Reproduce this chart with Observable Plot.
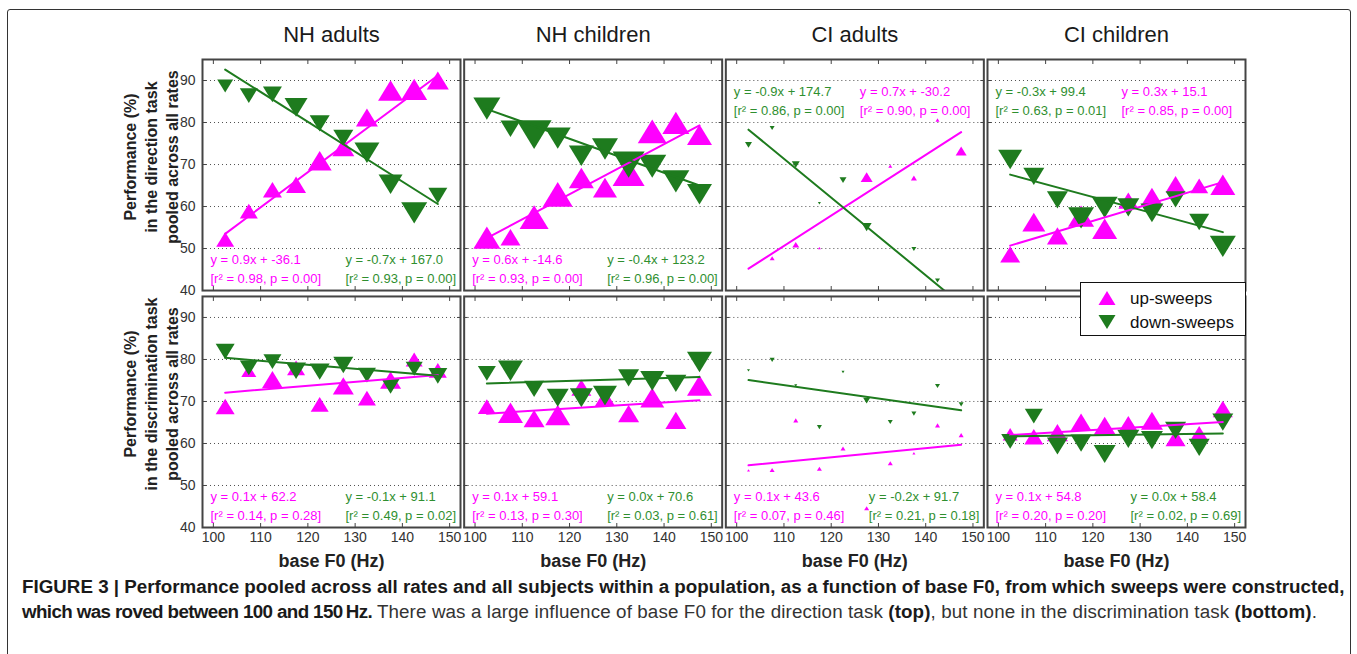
<!DOCTYPE html>
<html>
<head>
<meta charset="utf-8">
<script src="https://cdn.jsdelivr.net/npm/d3@7"></script>
<script src="https://cdn.jsdelivr.net/npm/@observablehq/plot@0.6"></script>
<style>
  body { margin: 0; background: #fff; font-family: "Liberation Sans", Arial, sans-serif; }
  #wrap { position: relative; width: 1357px; height: 654px; overflow: hidden; background: #fff; }
  #border { position: absolute; left: 7px; top: 9px; width: 1342px; height: 700px; border: 1px solid #333; border-radius: 3px; }
  #chart { position: absolute; left: 0; top: 0; }
  #legend { position: absolute; left: 1080px; top: 282px; width: 164px; height: 52px; border: 1.5px solid #111; background: #fff; }
  #caption { position: absolute; left: 22px; top: 574px; white-space: nowrap; font-size: 16.6px; line-height: 25px; color: #333; }
  #caption b { color: #1a1a1a; }
</style>
</head>
<body>
<div id="wrap">
  <div id="border"></div>
  <div id="chart"></div>
  <div id="legend"></div>
  <div id="caption"><span id="cap1"><b>FIGURE 3 | Performance pooled across all rates and all subjects within a population, as a function of base F0, from which sweeps were constructed,</b></span><br><span id="cap2b"><b>which was roved between 100 and 150&thinsp;Hz.</b></span> <span id="cap2r">There was a large influence of base F0 for the direction task <b>(top)</b>, but none in the discrimination task <b>(bottom)</b>.</span></div>
</div>
<script>
// ---------- data ----------
const columns = ["NH adults", "NH children", "CI adults", "CI children"];
const tasks = ["direction", "discrimination"];
const baseF0 = [102.5, 107.5, 112.5, 117.5, 122.5, 127.5, 132.5, 137.5, 142.5, 147.5];
const xTicks = [100, 110, 120, 130, 140, 150];
const yTicks = [40, 50, 60, 70, 80, 90];

// direction task (top row)
const upDirNHA   = [52.2, 58.9, 64.0, 65.2, 70.9, 74.1, 81.2, 87.6, 87.9, 90.0];
const downDirNHA = [88.7, 86.4, 86.7, 83.6, 79.8, 76.3, 72.8, 65.3, 58.5, 62.6];
const upDirNHC   = [52.6, 52.7, 57.5, 62.9, 66.8, 64.5, 68.0, 77.9, 79.9, 77.1];
const downDirNHC = [83.3, 78.5, 77.1, 76.3, 72.1, 73.7, 70.0, 69.6, 66.0, 62.9];
const upDirCIA   = [null, 47.7, 50.9, 50.1, null, 67.0, 69.6, 66.8, 80.6, 73.2];
const downDirCIA = [74.7, 78.7, 70.0, 60.8, 66.3, 55.1, null, 49.9, 42.4, null];
const upDirCIC   = [48.6, 56.3, 53.0, 57.7, 54.7, 61.4, 62.3, 65.3, 64.9, 65.2];
const downDirCIC = [71.2, 67.2, 61.6, 57.3, 59.8, 59.8, 58.5, 61.7, 56.3, 50.5];
// discrimination task (bottom row)
const upDisNHA   = [68.8, 77.3, 75.2, 78.0, 69.3, 73.7, 70.8, 75.1, 80.0, 77.4];
const downDisNHA = [81.9, 78.0, 79.5, 77.3, 77.1, 78.7, 76.3, 73.6, 77.8, 76.1];
const upDisNHC   = [68.8, 67.3, 65.9, 66.8, 73.3, 70.9, 67.1, 70.9, 65.5, 73.8];
const downDisNHC = [76.7, 77.3, 73.0, 70.9, 70.9, 71.4, 75.6, 74.9, 74.3, 79.4];
const upDisCIA   = [53.6, 53.7, 65.5, 54.0, 58.8, 44.6, 55.3, 57.7, 64.3, 62.0];
const downDisCIA = [77.4, 79.9, 73.8, 63.9, 77.0, 70.2, 65.1, 67.1, 73.7, 69.3];
const upDisCIC   = [62.2, 61.6, 62.6, 65.1, 64.2, 64.6, 65.4, 61.3, 62.3, 68.2];
const downDisCIC = [60.5, 66.5, 59.4, 60.1, 57.5, 61.1, 60.8, 63.1, 59.1, 65.1];

// relative marker weights (symbol size encodes them)
const wUpDirNHA   = [18, 18, 19, 20, 24, 22, 22, 25, 26, 22];
const wDownDirNHA = [16, 18, 19, 23, 20, 20, 25, 24, 26, 19];
const wUpDirNHC   = [27, 20, 29, 30, 25, 24, 32, 29, 27, 25];
const wDownDirNHC = [27, 20, 35, 26, 25, 26, 32, 28, 27, 25];
const wUpDirCIA   = [0, 5, 7, 3, 0, 12, 4, 6, 4, 11];
const wDownDirCIA = [7, 5, 8, 3, 7, 10, 0, 5, 5, 0];
const wUpDirCIC   = [20, 23, 21, 26, 25, 20, 22, 20, 18, 25];
const wDownDirCIC = [24, 21, 21, 26, 26, 22, 23, 20, 20, 26];
const wUpDisNHA   = [19, 15, 21, 18, 18, 21, 18, 21, 17, 18];
const wDownDisNHA = [19, 18, 18, 20, 20, 20, 18, 18, 17, 19];
const wUpDisNHC   = [18, 25, 21, 25, 20, 20, 21, 24, 21, 25];
const wDownDisNHC = [18, 25, 20, 22, 23, 24, 21, 24, 21, 25];
const wUpDisCIA   = [3, 5, 5, 5, 5, 5, 5, 3, 5, 5];
const wDownDisCIA = [3, 5, 3, 5, 3, 7, 5, 5, 5, 5];
const wUpDisCIC   = [15, 19, 21, 21, 22, 20, 22, 20, 19, 20];
const wDownDisCIC = [18, 18, 21, 21, 22, 22, 22, 21, 21, 21];

// fitted lines: value at first and last base F0, panel order (direction x4, discrimination x4)
const upFitStart   = [53.5, 52.5, 45.2, 50.7, 72.1, 67.1, 54.8, 62.0];
const upFitEnd     = [91.2, 79.3, 77.7, 65.8, 76.3, 70.3, 59.7, 65.1];
const downFitStart = [92.6, 83.2, 78.3, 67.6, 80.4, 74.3, 75.1, 61.7];
const downFitEnd   = [60.6, 65.0, 36.7, 53.9, 76.1, 75.8, 67.9, 62.4];

// fit annotations
const upEq = ["y = 0.9x + -36.1", "y = 0.6x + -14.6", "y = 0.7x + -30.2", "y = 0.3x + 15.1",
              "y = 0.1x + 62.2", "y = 0.1x + 59.1", "y = 0.1x + 43.6", "y = 0.1x + 54.8"];
const upStat = ["[r² = 0.98, p = 0.00]", "[r² = 0.93, p = 0.00]", "[r² = 0.90, p = 0.00]", "[r² = 0.85, p = 0.00]",
                "[r² = 0.14, p = 0.28]", "[r² = 0.13, p = 0.30]", "[r² = 0.07, p = 0.46]", "[r² = 0.20, p = 0.20]"];
const downEq = ["y = -0.7x + 167.0", "y = -0.4x + 123.2", "y = -0.9x + 174.7", "y = -0.3x + 99.4",
                "y = -0.1x + 91.1", "y = 0.0x + 70.6", "y = -0.2x + 91.7", "y = 0.0x + 58.4"];
const downStat = ["[r² = 0.93, p = 0.00]", "[r² = 0.96, p = 0.00]", "[r² = 0.86, p = 0.00]", "[r² = 0.63, p = 0.01]",
                  "[r² = 0.49, p = 0.02]", "[r² = 0.03, p = 0.61]", "[r² = 0.21, p = 0.18]", "[r² = 0.02, p = 0.69]"];

const yTitles = ["Performance (%)\nin the direction task\npooled across all rates",
                 "Performance (%)\nin the discrimination task\npooled across all rates"];
const xTitle = "base F0 (Hz)";
const legendLabels = ["up-sweeps", "down-sweeps"];

// ---------- build tables ----------
const MAGENTA = "#ff00ff", GREEN = "#1e7b1e", GREEN_TEXT = "#2f8f2f";
const upValues = [upDirNHA, upDirNHC, upDirCIA, upDirCIC, upDisNHA, upDisNHC, upDisCIA, upDisCIC];
const downValues = [downDirNHA, downDirNHC, downDirCIA, downDirCIC, downDisNHA, downDisNHC, downDisCIA, downDisCIC];
const upWeights = [wUpDirNHA, wUpDirNHC, wUpDirCIA, wUpDirCIC, wUpDisNHA, wUpDisNHC, wUpDisCIA, wUpDisCIC];
const downWeights = [wDownDirNHA, wDownDirNHC, wDownDirCIA, wDownDirCIC, wDownDisNHA, wDownDisNHC, wDownDisCIA, wDownDisCIC];
const panels = tasks.flatMap(t => columns.map(c => ({task: t, col: c})));

const upPts = [], downPts = [], upFit = [], downFit = [];
panels.forEach((p, i) => {
  baseF0.forEach((f, j) => {
    if (upValues[i][j] != null) upPts.push({fx: p.col, fy: p.task, f0: f, perf: upValues[i][j], w: upWeights[i][j]});
    if (downValues[i][j] != null) downPts.push({fx: p.col, fy: p.task, f0: f, perf: downValues[i][j], w: downWeights[i][j]});
  });
  const f0a = baseF0[0], f0b = baseF0[baseF0.length - 1];
  upFit.push({fx: p.col, fy: p.task, f0: f0a, perf: upFitStart[i], k: i}, {fx: p.col, fy: p.task, f0: f0b, perf: upFitEnd[i], k: i});
  downFit.push({fx: p.col, fy: p.task, f0: f0a, perf: downFitStart[i], k: i}, {fx: p.col, fy: p.task, f0: f0b, perf: downFitEnd[i], k: i});
});

// triangle symbols centred on their bounding box
const triUp = {draw(ctx, size) { const a = Math.sqrt(size / Math.PI), h = a * 0.82;
  ctx.moveTo(0, -h); ctx.lineTo(a, h); ctx.lineTo(-a, h); ctx.closePath(); }};
const triDown = {draw(ctx, size) { const a = Math.sqrt(size / Math.PI), h = a * 0.82;
  ctx.moveTo(0, h); ctx.lineTo(a, -h); ctx.lineTo(-a, -h); ctx.closePath(); }};

// annotation marks
const annMarks = [];
panels.forEach((p, i) => {
  const atTop = p.task === "direction" && p.col.startsWith("CI");
  const up = {fx: p.col, fy: p.task, t: upEq[i] + "\n" + upStat[i]};
  const dn = {fx: p.col, fy: p.task, t: downEq[i] + "\n" + downStat[i]};
  const left = atTop ? dn : up, right = atTop ? up : dn;
  const leftFill = atTop ? GREEN_TEXT : MAGENTA, rightFill = atTop ? MAGENTA : GREEN_TEXT;
  const base = {fx: "fx", fy: "fy", text: "t", textAnchor: "start", fontSize: 13, lineHeight: 1.45,
                frameAnchor: atTop ? "top-left" : "bottom-left", dy: atTop ? 23 : -8};
  annMarks.push(Plot.text([left], {...base, fill: leftFill, dx: 8}));
  annMarks.push(Plot.text([right], {...base, fill: rightFill, dx: atTop ? 134 : 143}));
});

const chart = Plot.plot({
  width: 1357,
  height: 574,
  marginLeft: 202,
  marginRight: 112,
  marginTop: 59,
  marginBottom: 47,
  style: {fontFamily: "Liberation Sans, Arial, sans-serif", background: "transparent", overflow: "visible"},
  fx: {domain: columns, paddingInner: 0.014, paddingOuter: 0, round: false},
  fy: {domain: tasks, paddingInner: 0.025, paddingOuter: 0, round: false, axis: null},
  x: {domain: [97.7, 152.3]},
  y: {domain: [40, 95]},
  r: {type: "linear", domain: [0, 40], range: [0, 20]},
  marks: [
    Plot.gridY([50, 60, 70, 80, 90], {stroke: "#333", strokeOpacity: 0.85, strokeDasharray: "1,3"}),
    Plot.dot(upPts, {fx: "fx", fy: "fy", x: "f0", y: "perf", r: "w", symbol: triUp, fill: MAGENTA, stroke: "none"}),
    Plot.dot(downPts, {fx: "fx", fy: "fy", x: "f0", y: "perf", r: "w", symbol: triDown, fill: GREEN, stroke: "none"}),
    Plot.line(upFit, {fx: "fx", fy: "fy", x: "f0", y: "perf", z: "k", stroke: MAGENTA, strokeWidth: 2, clip: true}),
    Plot.line(downFit, {fx: "fx", fy: "fy", x: "f0", y: "perf", z: "k", stroke: GREEN, strokeWidth: 2, clip: true}),
    ...annMarks,
    Plot.frame({stroke: "#444", strokeWidth: 2}),
    Plot.axisX({ticks: xTicks, anchor: "bottom", tickSize: 0, tickPadding: 5, fontSize: 14, fill: "#333", label: null}),
    Plot.axisX({ticks: xTicks, anchor: "bottom", facetAnchor: null, tickSize: -4, fill: "none", stroke: "#444", label: null}),
    Plot.axisX({ticks: xTicks, anchor: "top", facetAnchor: null, tickSize: -4, fill: "none", stroke: "#444", label: null}),
    Plot.axisY({ticks: yTicks, anchor: "left", tickSize: 0, tickPadding: 7, fontSize: 14, fill: "#333", label: null}),
    Plot.axisY({ticks: yTicks, anchor: "left", facetAnchor: null, tickSize: -4, fill: "none", stroke: "#444", label: null}),
    Plot.axisY({ticks: yTicks, anchor: "right", facetAnchor: null, tickSize: -4, fill: "none", stroke: "#444", label: null}),
    Plot.axisFx({anchor: "top", tickSize: 0, tickPadding: 18, fontSize: 22, fill: "#1a1a1a", label: null}),
    Plot.text(tasks.map((t, i) => ({fx: columns[0], fy: t, t: yTitles[i]})),
      {fx: "fx", fy: "fy", text: "t", frameAnchor: "left", textAnchor: "middle", rotate: -90, dx: -52, dy: -18,
       fontSize: 16, fontWeight: "bold", lineHeight: 1.32, fill: "#222"}),
    Plot.text(columns.map(c => ({fx: c, fy: tasks[1], t: xTitle})),
      {fx: "fx", fy: "fy", text: "t", frameAnchor: "bottom", dy: 39, fontSize: 18, fontWeight: "bold", fill: "#222"})
  ]
});
document.getElementById("chart").append(chart);

// legend
const lg = d3.select("#legend").append("svg").attr("width", 164).attr("height", 52);
const tri = (cx, cy, a, up) => { const h = a * 0.82;
  return up ? `M${cx},${cy - h}L${cx + a},${cy + h}L${cx - a},${cy + h}Z` : `M${cx},${cy + h}L${cx + a},${cy - h}L${cx - a},${cy - h}Z`; };
[[MAGENTA, true], [GREEN, false]].forEach(([col, up], i) => {
  const cy = 15 + i * 24;
  lg.append("path").attr("d", tri(26, cy, 8.5, up)).attr("fill", col);
  lg.append("text").attr("x", 49).attr("y", cy).attr("dy", "0.35em").attr("font-size", 17)
    .attr("font-family", "Liberation Sans, Arial, sans-serif").attr("fill", "#111").text(legendLabels[i]);
});

// fit caption lines to the figure's text widths
const cap = document.getElementById("caption");
const w1 = document.getElementById("cap1").getBoundingClientRect().width;
cap.style.fontSize = (16.6 * 1323 / w1).toFixed(2) + "px";
function fitSpan(id, target) {
  const el = document.getElementById(id);
  const n = el.textContent.length;
  const w = el.getBoundingClientRect().width;
  el.style.letterSpacing = ((target - w) / n).toFixed(3) + "px";
}
fitSpan("cap2b", 350);
fitSpan("cap2r", 940);
</script>
</body>
</html>
